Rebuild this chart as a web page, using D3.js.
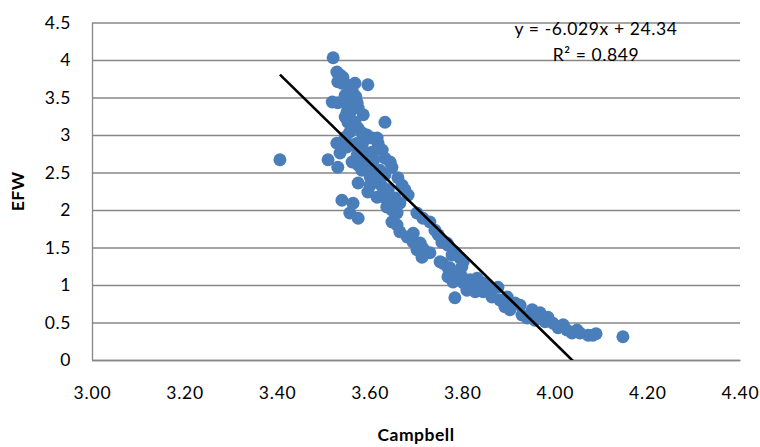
<!DOCTYPE html>
<html>
  <head>
    <title>EFW vs Campbell</title>
    <script src="https://cdn.jsdelivr.net/npm/d3@7"></script>
    <style>
      body { margin: 0; background: #fff; }
      text { font-family: Lato, "Open Sans", sans-serif; fill: #000; }
    </style>
  </head>
  <body>
    <svg id="container" width="760" height="447"></svg>
  <script>
    // scatter values
    const campbell = [
      3.521, 3.529, 3.536, 3.542, 3.531, 3.540, 3.551, 3.562, 3.568, 3.596,
      3.557, 3.564, 3.570, 3.519, 3.531, 3.553, 3.573, 3.575, 3.586, 3.551,
      3.547, 3.557, 3.553, 3.633, 3.564, 3.557, 3.594, 3.605, 3.616, 3.618,
      3.529, 3.542, 3.573, 3.564, 3.586, 3.586, 3.551, 3.579, 3.536, 3.510,
      3.531, 3.562, 3.575, 3.644, 3.648, 3.583, 3.601, 3.601, 3.607, 3.575,
      3.601, 3.622, 3.612, 3.627, 3.661, 3.670, 3.676, 3.683, 3.596, 3.616,
      3.633, 3.644, 3.540, 3.564, 3.557, 3.575, 3.637, 3.648, 3.659, 3.648,
      3.659, 3.665, 3.681, 3.694, 3.702, 3.715, 3.730, 3.741, 3.748, 3.767,
      3.709, 3.715, 3.694, 3.702, 3.713, 3.730, 3.752, 3.769, 3.769, 3.780,
      3.795, 3.802, 3.817, 3.832, 3.834, 3.784, 3.756, 3.769, 3.784, 3.795,
      3.799, 3.778, 3.758, 3.773, 3.802, 3.784, 3.799, 3.780, 3.802, 3.821,
      3.843, 3.853, 3.860, 3.877, 3.864, 3.845, 3.881, 3.897, 3.892, 3.914,
      3.925, 3.929, 3.951, 3.957, 3.968, 3.985, 3.996, 4.018, 4.026, 4.048,
      4.054, 4.072, 4.082, 4.147, 3.406, 3.547, 3.560, 3.568, 3.575, 3.583,
      3.547, 3.573, 3.590, 3.609, 3.592, 3.622, 3.633, 3.640, 3.655, 3.665,
      3.810, 3.828, 3.903, 3.940, 3.979, 4.007, 4.037, 4.089, 3.627, 3.633,
      3.605
    ];
    const efw = [
      4.03, 3.84, 3.80, 3.77, 3.71, 3.69, 3.67, 3.64, 3.69, 3.67,
      3.57, 3.56, 3.51, 3.44, 3.43, 3.40, 3.43, 3.36, 3.27, 3.31,
      3.24, 3.23, 3.17, 3.17, 3.11, 3.04, 3.00, 2.96, 2.96, 2.89,
      2.89, 2.85, 2.89, 2.87, 2.91, 2.80, 2.84, 2.83, 2.76, 2.67,
      2.57, 2.64, 2.60, 2.64, 2.57, 2.53, 2.49, 2.44, 2.43, 2.36,
      2.33, 2.36, 2.40, 2.31, 2.43, 2.33, 2.27, 2.20, 2.24, 2.17,
      2.16, 2.17, 2.13, 2.09, 1.96, 1.89, 2.04, 2.00, 1.96, 1.84,
      1.80, 1.71, 1.64, 1.69, 1.96, 1.89, 1.84, 1.73, 1.67, 1.56,
      1.56, 1.49, 1.57, 1.47, 1.37, 1.43, 1.31, 1.23, 1.11, 1.07,
      1.13, 1.04, 1.07, 1.09, 1.00, 0.83, 1.57, 1.53, 1.44, 1.36,
      1.24, 1.40, 1.29, 1.23, 1.31, 1.13, 1.11, 1.04, 1.03, 1.04,
      1.03, 1.00, 0.96, 0.97, 0.84, 0.91, 0.80, 0.84, 0.71, 0.76,
      0.73, 0.60, 0.67, 0.53, 0.63, 0.57, 0.49, 0.47, 0.40, 0.40,
      0.36, 0.33, 0.33, 0.31, 2.67, 3.53, 3.33, 3.17, 3.09, 3.03,
      2.97, 2.73, 2.69, 2.67, 2.56, 2.53, 2.47, 2.27, 2.16, 2.09,
      0.93, 0.91, 0.67, 0.56, 0.51, 0.43, 0.36, 0.35, 2.80, 2.69,
      2.77
    ];
    const xTicks = [3.0, 3.2, 3.4, 3.6, 3.8, 4.0, 4.2, 4.4];
    const yTicks = [0, 0.5, 1, 1.5, 2, 2.5, 3, 3.5, 4, 4.5];
    // linear trendline shown on the chart: [slope, intercept], R²
    const trend = [-6.029, 24.34];
    const rSquared = [0.849];

    const svg = d3.select("#container");
    const plotLeft = 92, plotRight = 740, plotTop = 22.5, plotBottom = 360;

    const x = d3.scaleLinear().domain([3.0, 4.4]).range([plotLeft, plotRight]);
    const y = d3.scaleLinear().domain([0, 4.5]).range([plotBottom, plotTop]);

    svg.append("defs").append("clipPath").attr("id", "plot")
      .append("rect")
      .attr("x", plotLeft).attr("y", plotTop)
      .attr("width", plotRight - plotLeft).attr("height", plotBottom - plotTop);

    // horizontal gridlines
    svg.append("g")
      .attr("transform", `translate(${plotLeft},0)`)
      .call(d3.axisLeft(y).tickValues(yTicks).tickSize(-(plotRight - plotLeft)).tickFormat(""))
      .call(g => g.select(".domain").remove())
      .call(g => g.selectAll("line").attr("stroke", "#878787").attr("stroke-width", 1.3));

    // y axis labels
    const yAxis = svg.append("g")
      .attr("transform", `translate(${plotLeft},0)`)
      .call(d3.axisLeft(y).tickValues(yTicks).tickSize(0).tickPadding(21).tickFormat(d3.format("")));
    yAxis.select(".domain").attr("stroke", "#878787").attr("stroke-width", 1.3);
    yAxis.selectAll("text").attr("font-size", 17.5).style("letter-spacing", "0.6px");

    // x axis
    const xAxis = svg.append("g")
      .attr("transform", `translate(0,${plotBottom})`)
      .call(d3.axisBottom(x).tickValues(xTicks).tickSize(0).tickPadding(27).tickFormat(d3.format(".2f")));
    xAxis.select(".domain").attr("stroke", "#878787").attr("stroke-width", 1.3);
    xAxis.selectAll("text").attr("font-size", 17.5).style("letter-spacing", "0.8px");

    // points
    const points = campbell.map((c, i) => ({ x: c, y: efw[i] }));
    svg.append("g")
      .selectAll("circle")
      .data(points)
      .join("circle")
      .attr("cx", d => x(d.x))
      .attr("cy", d => y(d.y))
      .attr("r", 6.5)
      .attr("fill", "#4a7ebb");

    // trendline over the data range, clipped to the plot
    const xMin = d3.min(campbell), xMax = d3.max(campbell);
    const line = d3.line().x(d => x(d)).y(d => y(trend[0] * d + trend[1]));
    svg.append("path")
      .attr("clip-path", "url(#plot)")
      .attr("d", line([xMin, xMax]))
      .attr("stroke", "#000")
      .attr("stroke-width", 2.6)
      .attr("fill", "none");

    // equation label
    svg.append("text")
      .attr("x", 596).attr("y", 35)
      .attr("text-anchor", "middle")
      .attr("font-size", 17.5)
      .style("letter-spacing", "0.6px")
      .text(`y = ${trend[0]}x + ${trend[1]}`);
    svg.append("text")
      .attr("x", 596).attr("y", 61)
      .attr("text-anchor", "middle")
      .attr("font-size", 17.5)
      .style("letter-spacing", "0.6px")
      .text(`R² = ${rSquared[0]}`);

    // axis titles
    svg.append("text")
      .attr("transform", `translate(24,${(plotTop + plotBottom) / 2}) rotate(-90)`)
      .attr("text-anchor", "middle")
      .attr("font-size", 17.5)
      .attr("font-weight", "bold")
      .style("letter-spacing", "0.5px")
      .text("EFW");
    svg.append("text")
      .attr("x", (plotLeft + plotRight) / 2).attr("y", 441)
      .attr("text-anchor", "middle")
      .attr("font-size", 17.5)
      .attr("font-weight", "bold")
      .style("letter-spacing", "0.5px")
      .text("Campbell");
  </script>
  </body>
</html>
